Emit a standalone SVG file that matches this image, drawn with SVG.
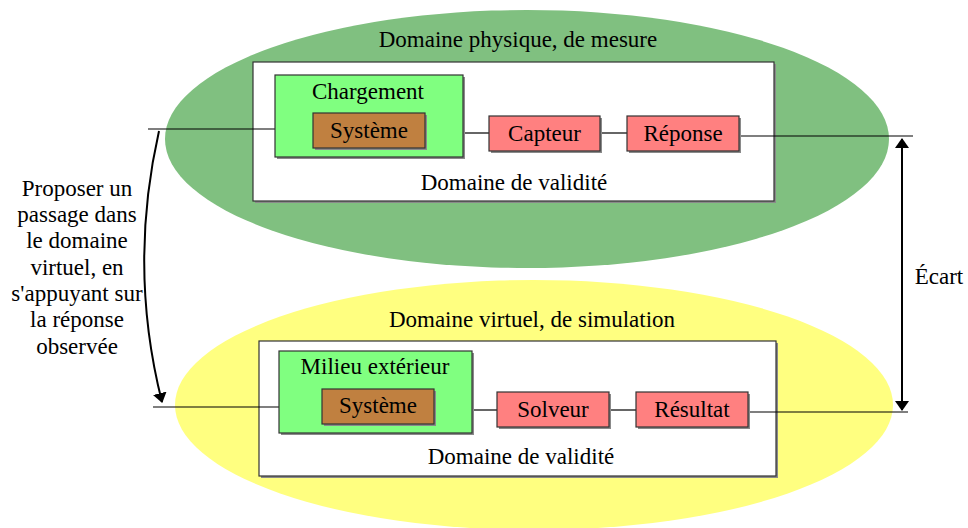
<svg xmlns="http://www.w3.org/2000/svg" width="968" height="528" viewBox="0 0 968 528" font-family="'Liberation Serif', 'DejaVu Serif', serif">
<defs>
<style>
text{font-family:'Liberation Serif','DejaVu Serif',serif;font-size:23px;fill:#000;text-anchor:middle}
.sh{fill:#8a8a8a}
.box{stroke:#333;stroke-width:1.2}
.w{fill:#fff}
.g{fill:#80ff80}
.b{fill:#c08040}
.r{fill:#ff8080}
.ln{stroke:#000;stroke-width:1.2;fill:none}
.ar{stroke:#000;stroke-width:2;fill:none}
</style>
<marker id="ah2" viewBox="0 0 10 10" refX="9" refY="5" markerWidth="10" markerHeight="14" orient="auto-start-reverse" markerUnits="userSpaceOnUse" preserveAspectRatio="none">
<path d="M0,0 L10,5 L0,10 z" fill="#000"/>
</marker>
</defs>
<rect width="968" height="528" fill="#fff"/>

<g id="domaine-physique">
<ellipse cx="527" cy="139" rx="362" ry="129" fill="#80c080"/>
<text x="518" y="47">Domaine physique, de mesure</text>
</g>
<g id="domaine-virtuel">
<ellipse cx="534" cy="405" rx="359" ry="125" fill="#ffff80"/>
<text x="532" y="327">Domaine virtuel, de simulation</text>
</g>

<g id="validite-physique">
<rect class="sh" x="255" y="64" width="521" height="139"/>
<rect class="box w" x="253" y="62" width="521" height="139"/>
<text x="514" y="190">Domaine de validité</text>
</g>
<g id="validite-virtuel">
<rect class="sh" x="261" y="343" width="517" height="135"/>
<rect class="box w" x="259" y="341" width="517" height="135"/>
<text x="521" y="464">Domaine de validité</text>
</g>

<g id="connectors">
<line class="ln" x1="148" y1="129" x2="275" y2="129"/>
<line class="ln" x1="463" y1="133" x2="489" y2="133"/>
<line class="ln" x1="600" y1="133" x2="627" y2="133"/>
<line class="ln" x1="739" y1="136" x2="913" y2="136"/>
<line class="ln" x1="153" y1="407" x2="279" y2="407"/>
<line class="ln" x1="472" y1="410" x2="497" y2="410"/>
<line class="ln" x1="609" y1="410" x2="636" y2="410"/>
<line class="ln" x1="748" y1="412" x2="908" y2="412"/>
<path class="ar" d="M159,131 Q128,268 162,402" marker-end="url(#ah2)"/>
<line class="ar" x1="902" y1="139" x2="902" y2="410" marker-start="url(#ah2)" marker-end="url(#ah2)"/>
</g>

<g id="chargement">
<rect class="sh" x="277" y="77" width="188" height="82"/>
<rect class="box g" x="275" y="75" width="188" height="82"/>
<text x="368" y="99">Chargement</text>
</g>
<g id="systeme-physique">
<rect class="sh" x="315" y="115" width="112" height="35"/>
<rect class="box b" x="313" y="113" width="112" height="35"/>
<text x="369" y="138">Système</text>
</g>
<g id="capteur">
<rect class="sh" x="491" y="118" width="111" height="35"/>
<rect class="box r" x="489" y="116" width="111" height="35"/>
<text x="544.5" y="141">Capteur</text>
</g>
<g id="reponse">
<rect class="sh" x="629" y="118" width="112" height="35"/>
<rect class="box r" x="627" y="116" width="112" height="35"/>
<text x="683" y="141">Réponse</text>
</g>

<g id="milieu-exterieur">
<rect class="sh" x="281" y="353" width="193" height="82"/>
<rect class="box g" x="279" y="351" width="193" height="82"/>
<text x="375" y="374">Milieu extérieur</text>
</g>
<g id="systeme-virtuel">
<rect class="sh" x="324" y="391" width="112" height="35"/>
<rect class="box b" x="322" y="389" width="112" height="35"/>
<text x="378" y="413">Système</text>
</g>
<g id="solveur">
<rect class="sh" x="499" y="394" width="112" height="35"/>
<rect class="box r" x="497" y="392" width="112" height="35"/>
<text x="553" y="417">Solveur</text>
</g>
<g id="resultat">
<rect class="sh" x="638" y="394" width="112" height="35"/>
<rect class="box r" x="636" y="392" width="112" height="35"/>
<text x="692" y="417">Résultat</text>
</g>

<g id="label-passage">
<text x="77" y="196">Proposer un</text>
<text x="77" y="222">passage dans</text>
<text x="77" y="248">le domaine</text>
<text x="77" y="275">virtuel, en</text>
<text x="77" y="301">s'appuyant sur</text>
<text x="77" y="327">la réponse</text>
<text x="77" y="354">observée</text>
</g>
<g id="label-ecart">
<text x="939" y="284">Écart</text>
</g>
</svg>
